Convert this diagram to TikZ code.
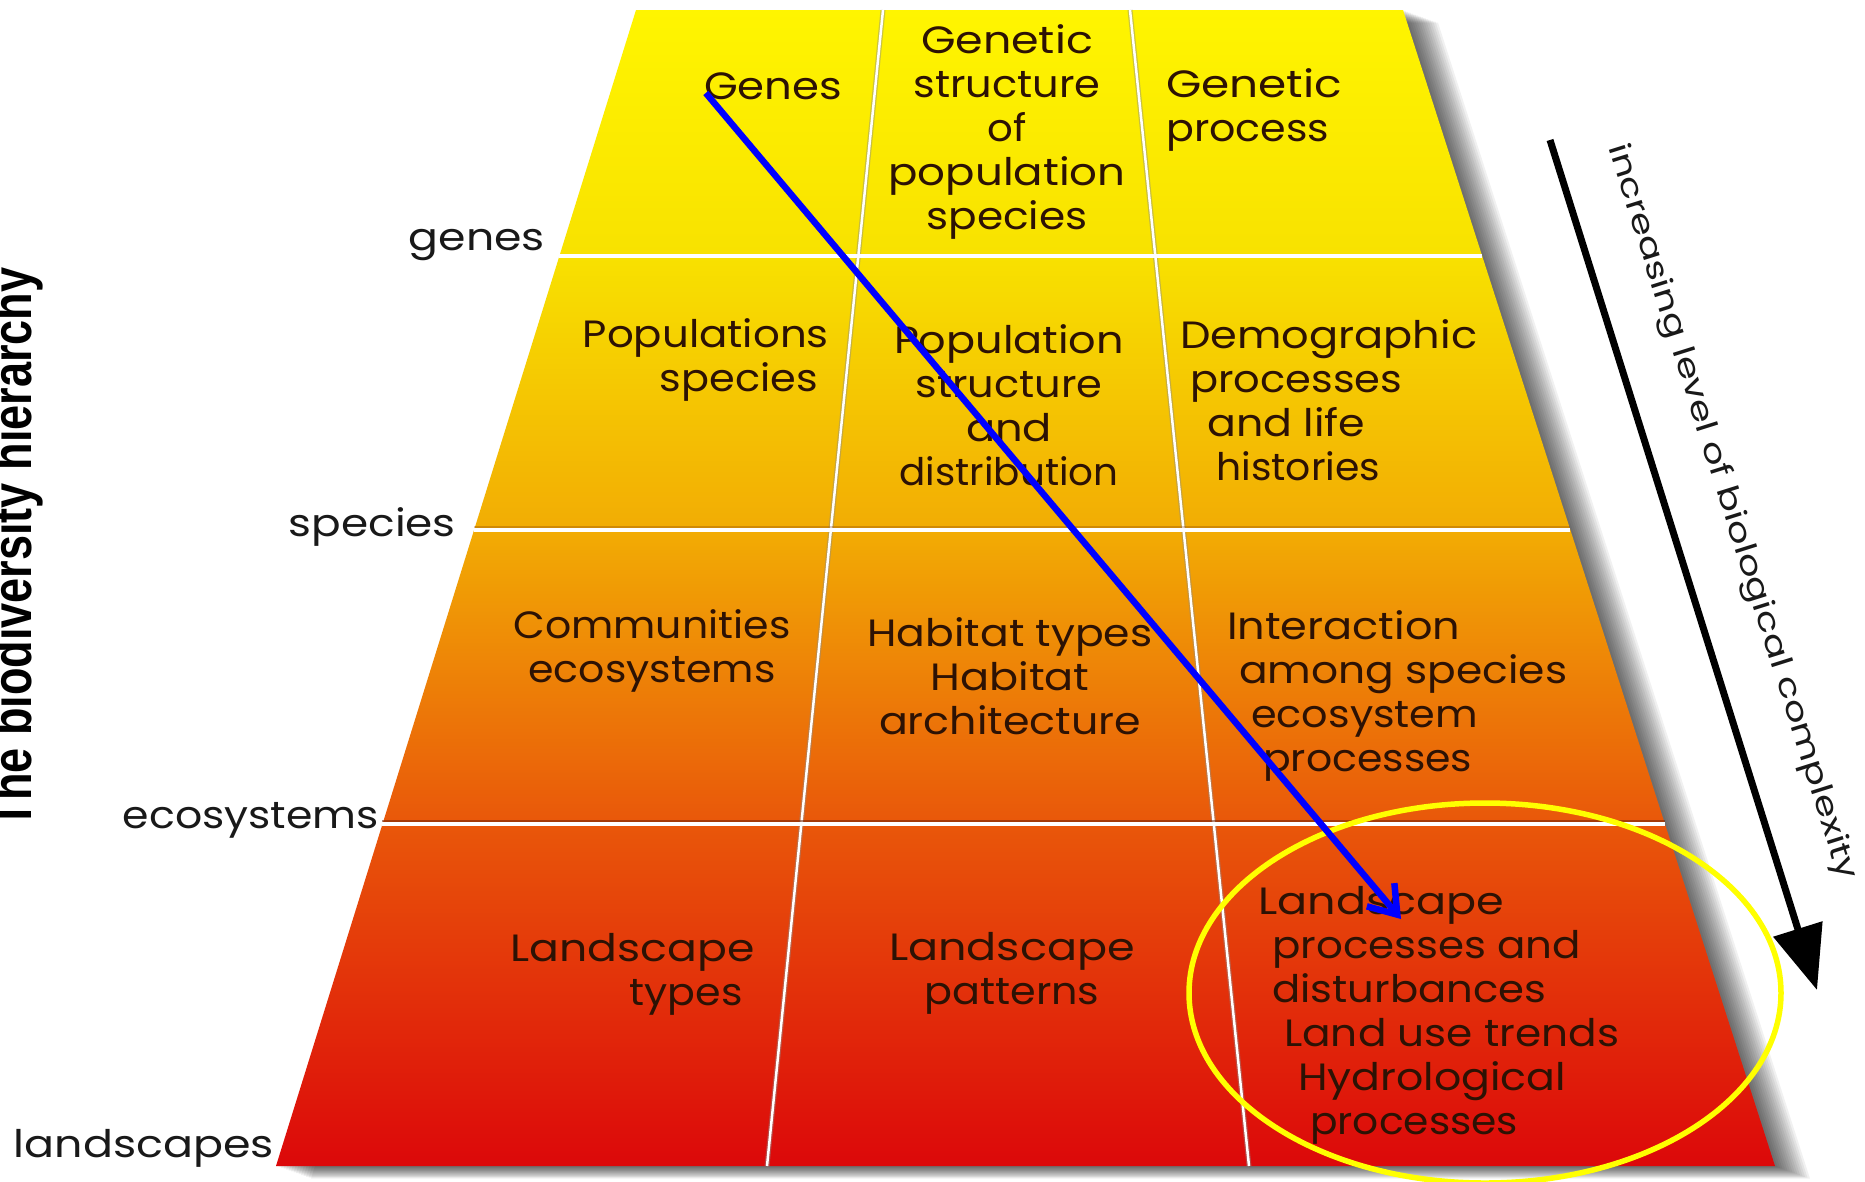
\documentclass[tikz,border=0pt]{standalone}
\usepackage{fontspec}
\usepackage{graphicx}
\setmainfont{Poppins}
\newfontfamily\titlefont{Liberation Sans}
\usetikzlibrary{arrows.meta,calc}

\definecolor{hYelA}{RGB}{255,245,0}
\definecolor{hYelB}{RGB}{248,226,0}
\definecolor{hOrA}{RGB}{242,172,4}
\definecolor{hOrB}{RGB}{233,88,10}
\definecolor{hRed}{RGB}{220,8,10}
\definecolor{cellink}{RGB}{45,18,4}
\definecolor{labelink}{RGB}{25,25,25}
\definecolor{rimbrown}{RGB}{110,35,8}
\definecolor{ringyellow}{RGB}{255,255,0}
\definecolor{arrowblue}{RGB}{0,0,255}

% yellow -> orange -> red, top to bottom
\pgfdeclareverticalshading{heat}{100bp}{color(0bp)=(hRed); color(25bp)=(hRed); color(40bp)=(hOrB); color(52.5bp)=(hOrA); color(64.5bp)=(hYelB); color(75bp)=(hYelA); color(100bp)=(hYelA)}

% a word stretched to a given width, height kept
\newcommand\wl[2]{\resizebox{#1pt}{\height}{#2}}

\begin{document}
\begin{tikzpicture}[x=1pt,y=-1pt,
  cell/.style={font=\fontsize{38}{44}\selectfont, text=cellink, inner sep=0pt},
  level/.style={font=\fontsize{38}{44}\selectfont, text=labelink, inner sep=0pt, anchor=base east},
  rowline/.style={white, line width=4pt},
  rowrim/.style={rimbrown, line width=2pt, opacity=0.55},
  colrim/.style={black!45, line width=5pt, opacity=0.45},
  colline/.style={white, line width=2.5pt}]
\useasboundingbox (0,0) rectangle (1865,1181);
\fill[white] (0,0) rectangle (1865,1181);

% soft drop shadow to the lower right
\foreach \i in {1,...,14}{
  \fill[black, opacity=0.055, shift={(\i*2.5,\i*0.9)}]
    (636,10) -- (1403,10) -- (1775,1166) -- (276,1166) -- cycle;
}

% the hierarchy plane
\coordinate (TL) at (636,10);
\coordinate (TR) at (1403,10);
\coordinate (BR) at (1775,1166);
\coordinate (BL) at (276,1166);
\shade[shading=heat] (TL) -- (TR) -- (BR) -- (BL) -- cycle;

\path (TL) -- (BL) coordinate[pos=0.2128] (l1) coordinate[pos=0.4498] (l2) coordinate[pos=0.7042] (l3);
\path (TR) -- (BR) coordinate[pos=0.2128] (r1) coordinate[pos=0.4498] (r2) coordinate[pos=0.7042] (r3);

% column separators
\coordinate (c1t) at (883,10);
\coordinate (c1b) at (767,1166);
\coordinate (c2t) at (1130,10);
\coordinate (c2b) at (1249,1166);
\draw[colrim] (c1t) -- (c1b);
\draw[colrim] (c2t) -- (c2b);
\draw[colline] (c1t) -- (c1b);
\draw[colline] (c2t) -- (c2b);

% row separators
\draw[rowrim, opacity=0.25] ([yshift=3pt]l2) -- ([yshift=3pt]r2);
\draw[rowrim] ([yshift=3.5pt]l3) -- ([yshift=3.5pt]r3);
\draw[rowline] (l1) -- (r1);
\draw[rowline] (l2) -- (r2);
\draw[rowline] (l3) -- (r3);

% cell texts
\node[cell, align=center] (genes) at (773,86) {\wl{138}{Genes}};
\node[cell, align=center] (gstruct) at (1007,132) {\wl{172}{Genetic}\\\wl{187}{structure}\\\wl{39}{of}\\\wl{237}{population}\\\wl{161}{species}};
\node[cell, align=left, anchor=west] (gproc) at (1166,110) {\wl{176}{Genetic}\\\wl{163}{process}};

\node[cell, align=right, anchor=east] (pops) at (829,360) {\wl{246}{Populations}\\\wl{158}{species}\hspace*{11pt}};
\node[cell, align=center] (pstruct) at (1009,405) {\wl{230}{Population}\\\wl{187}{structure}\\\wl{86}{and}\\\wl{219}{distribution}};
\node[cell, align=left, anchor=west] (demo) at (1180,400) {\wl{297}{Demographic}\\\hspace*{10pt}\wl{212}{processes}\\\hspace*{27pt}\wl{158}{and life}\\\hspace*{36pt}\wl{164}{histories}};

\node[cell, align=center] (comm) at (652,651) {\wl{277}{Communities}\\\wl{247}{ecosystems}};
\node[cell, align=center] (habitat) at (1010,676) {\wl{285}{Habitat types}\\\wl{159}{Habitat}\\\wl{262}{architecture}};
\node[cell, align=left, anchor=west] (inter) at (1227,696) {\wl{233}{Interaction}\\\hspace*{12pt}\wl{328}{among species}\\\hspace*{24pt}\wl{227}{ecosystem}\\\hspace*{36pt}\wl{209}{processes}};

\node[cell, align=right, anchor=east] (ltypes) at (755,974) {\wl{244}{Landscape}\\\wl{113}{types}\hspace*{12pt}};
\node[cell, align=center] (lpat) at (1012,973) {\wl{246}{Landscape}\\\wl{175}{patterns}};
\node[cell, align=left, anchor=west] (lproc) at (1258,1015) {\wl{246}{Landscape}\\\hspace*{14pt}\wl{309}{processes and}\\\hspace*{14pt}\wl{274}{disturbances}\\\hspace*{26pt}\wl{335}{Land use trends}\\\hspace*{40pt}\wl{268}{Hydrological}\\\hspace*{52pt}\wl{208}{processes}};

% level labels on the left
\node[level] (lvgenes) at (545,250) {\wl{136}{genes}};
\node[level] (lvspecies) at (456,536) {\wl{167}{species}};
\node[level] (lveco) at (379,828) {\wl{256}{ecosystems}};
\node[level] (lvland) at (274,1157) {\wl{260}{landscapes}};

% vertical title
\node[rotate=90, anchor=base, inner sep=0pt, text=black, font=\titlefont\bfseries\fontsize{56}{60}\selectfont] (title) at (31,548) {\wl{561}{The biodiversity hierarchy}};

% complexity arrow with its caption
\coordinate (cx1) at (1550,140);
\coordinate (cx2) at (1817,990);
\draw[line width=7pt, -{Triangle[length=64pt,width=50pt]}] (cx1) -- (cx2);
\node[rotate=-72.5, inner sep=0pt, text=labelink, font=\fontsize{30}{34}\selectfont] (cmplx) at (1731,512) {\wl{770}{increasing level of biological complexity}};

% highlighted cell
\draw[ringyellow, line width=5.5pt] (1485,993) ellipse [x radius=296, y radius=190];

% path from genes to landscape processes
\coordinate (tip) at (1401,919);
\draw[arrowblue, line width=6.5pt, -{Straight Barb[length=26pt,width=36pt]}] ($(genes.west)+(2,7)$) -- (tip);
\end{tikzpicture}
\end{document}
